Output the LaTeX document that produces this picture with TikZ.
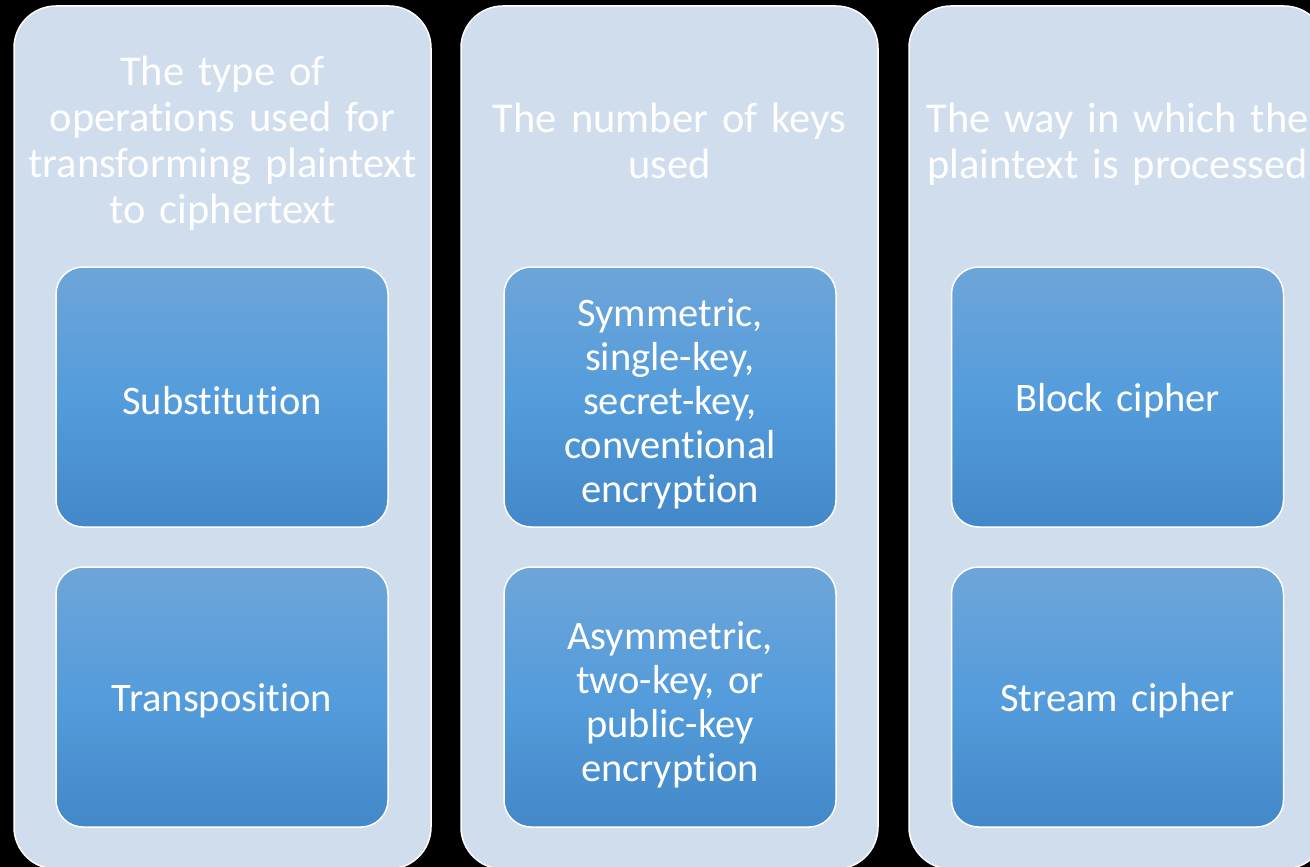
\documentclass[tikz,border=0pt]{standalone}
\usepackage{fontspec}
\setmainfont{Carlito}[Ligatures={NoCommon,NoRare,NoDiscretionary}]
\definecolor{colfill}{RGB}{207,221,236}
\definecolor{boxtop}{RGB}{110,165,217}
\definecolor{boxmid}{RGB}{84,156,219}
\definecolor{boxbot}{RGB}{67,136,200}
\newcommand{\tightspaces}{\spaceskip=0.16em\relax}
\tikzset{
  column/.style={draw=white, line width=1.5pt, fill=colfill, rounded corners=42pt,
    minimum width=417pt, minimum height=863pt, inner sep=0pt},
  header/.style={text=white, align=center, text width=410pt,
    font=\fontsize{42.5}{46}\selectfont\tightspaces},
  itembox/.style={draw=white, line width=1.5pt, rounded corners=27pt,
    top color=boxtop, bottom color=boxbot, middle color=boxmid,
    minimum width=332pt, minimum height=260pt, inner sep=0pt},
  itemtext/.style={text=white, align=center, text width=320pt, inner sep=0pt,
    font=\fontsize{40.5}{44}\selectfont\tightspaces}
}
\begin{document}
\begin{tikzpicture}[x=1pt, y=-1pt]
  \useasboundingbox (0,0) rectangle (1310,867);
  \fill[black] (0,0) rectangle (1310,867);
  \clip (0,0) rectangle (1310,867);

  % three category columns
  \node[column] (c1) at (222.5,437.5) {};
  \node[column] (c2) at (669.5,437.5) {};
  \node[column] (c3) at (1117.5,437.5) {};

  % column headings
  \node[header] (h1) at (222.5,143.5) {The type of\\operations used for\\transforming plaintext\\to ciphertext};
  \node[header] (h2) at (669.5,141) {The number of keys\\used};
  \node[header] (h3) at (1117.5,144) {The way in which the\\plaintext is processed};

  % category member boxes
  \node[itembox] (b11) at (222,397) {};
  \node[itembox] (b12) at (222,697) {};
  \node[itembox] (b21) at (670,397) {};
  \node[itembox] (b22) at (670,697) {};
  \node[itembox] (b31) at (1117.5,397) {};
  \node[itembox] (b32) at (1117.5,697) {};

  % their labels (y axis points down, so a negative shift lowers the text)
  \node[itemtext] (t11) at ([yshift=-3.5pt]b11.center) {Substitution};
  \node[itemtext] (t12) at ([yshift=-3.5pt]b12.center) {Transposition};
  \node[itemtext] (t21) at ([yshift=-7pt]b21.center) {Symmetric,\\single-key,\\secret-key,\\conventional\\encryption};
  \node[itemtext] (t22) at ([yshift=-7.5pt]b22.center) {Asymmetric,\\two-key, or\\public-key\\encryption};
  \node[itemtext] (t31) at ([yshift=-3.5pt]b31.center) {Block cipher};
  \node[itemtext] (t32) at ([yshift=-3.5pt]b32.center) {Stream cipher};
\end{tikzpicture}
\end{document}
